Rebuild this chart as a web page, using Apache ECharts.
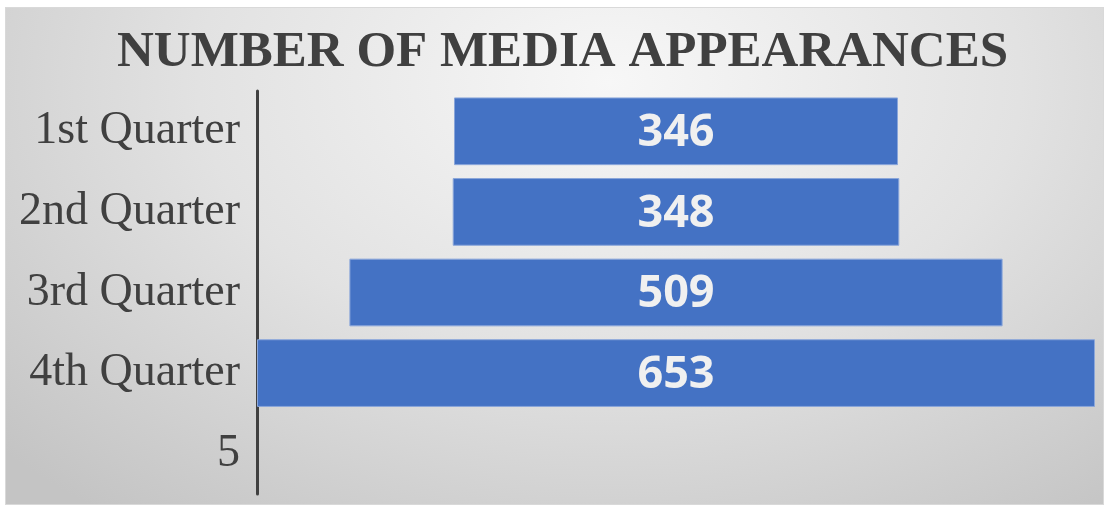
<!DOCTYPE html>
<html>
<head>
<meta charset="utf-8">
<script src="https://cdn.jsdelivr.net/npm/echarts@6/dist/echarts.min.js"></script>
<style>
  html, body { margin: 0; padding: 0; background: #ffffff; }
  #bg {
    position: absolute; left: 5px; top: 7px; width: 1097px; height: 496px;
    border: 1px solid #d9d9d9;
    background: radial-gradient(ellipse 75% 110% at 55% 15%, #f7f7f7 0%, #e2e2e2 50%, #c4c4c4 100%);
  }
  #chart { position: absolute; left: 0; top: 0; width: 1106px; height: 508px; }
</style>
</head>
<body>
<div id="bg"></div>
<div id="chart"></div>
<script>
var categories = ['1st Quarter', '2nd Quarter', '3rd Quarter', '4th Quarter', '5'];
var appearances = [346, 348, 509, 653, null];
var maxValue = 653;

// invisible spacer so each bar sits centred like a funnel
var spacer = appearances.map(function (v) {
	return v == null ? '-' : (maxValue - v) / 2;
});
var values = appearances.map(function (v) {
	return v == null ? '-' : v;
});

var chart = echarts.init(document.getElementById('chart'));
var option = {
	backgroundColor: 'transparent',
	animation: false,
	title: {
		text: 'NUMBER OF MEDIA APPEARANCES',
		left: 112,
		top: 22,
		textStyle: {
			fontFamily: 'Liberation Serif',
			fontWeight: 'bold',
			fontSize: 51,
			color: '#404040'
		}
	},
	grid: {
		left: 257,
		right: 11,
		top: 91,
		bottom: 14
	},
	xAxis: {
		type: 'value',
		min: 0,
		max: maxValue,
		show: false
	},
	yAxis: {
		type: 'category',
		data: categories,
		inverse: true,
		axisLine: {
			show: true,
			lineStyle: { color: '#404040', width: 3 }
		},
		axisTick: { show: false },
		axisLabel: {
			margin: 17,
			padding: [10, 0, 0, 0],
			fontFamily: 'Liberation Serif',
			fontSize: 46,
			color: '#404040'
		}
	},
	series: [{
		name: 'spacer',
		type: 'bar',
		stack: 'funnel',
		data: spacer,
		itemStyle: { color: 'transparent' },
		silent: true
	}, {
		name: 'Appearances',
		type: 'bar',
		stack: 'funnel',
		data: values,
		barCategoryGap: '16%',
		itemStyle: {
			color: '#4472c4',
			borderColor: '#8aa6da',
			borderWidth: 1
		},
		label: {
			show: true,
			position: 'inside',
			offset: [0, 2],
			fontFamily: 'Open Sans',
			fontWeight: 'bold',
			fontSize: 45,
			color: '#f0f0f0'
		}
	}]
};
chart.setOption(option);
</script>
</body>
</html>
